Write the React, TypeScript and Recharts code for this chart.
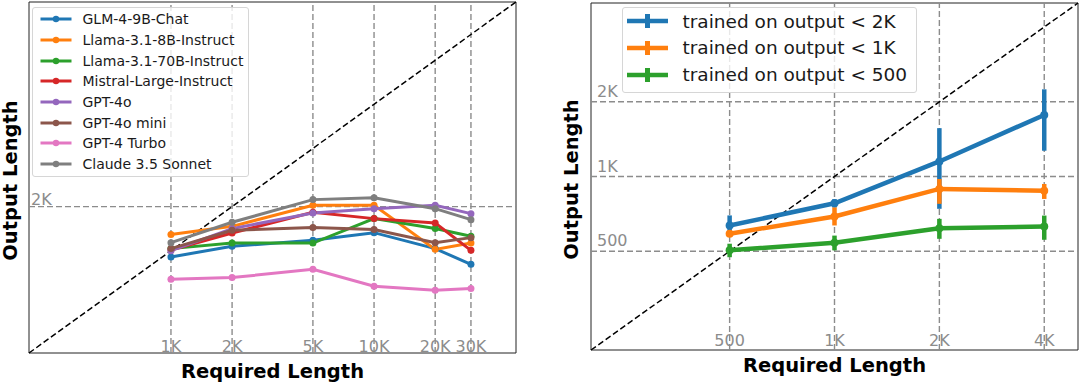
import {
  LineChart, Line, XAxis, YAxis, ReferenceLine, ReferenceArea, ErrorBar, Legend
} from 'recharts'

const FONT = '"DejaVu Sans", sans-serif'
const GRID = '#8c8c8c'

// left panel: required vs output length per model
const reqLen = [1000, 2000, 5000, 10000, 20000, 30000]
const modelNames = [
  'GLM-4-9B-Chat', 'Llama-3.1-8B-Instruct', 'Llama-3.1-70B-Instruct', 'Mistral-Large-Instruct',
  'GPT-4o', 'GPT-4o mini', 'GPT-4 Turbo', 'Claude 3.5 Sonnet',
]
const modelColors = ['#1f77b4', '#ff7f0e', '#2ca02c', '#d62728', '#9467bd', '#8c564b', '#e377c2', '#7f7f7f']
const glm = [906, 1071, 1177, 1328, 1033, 807]
const llama8b = [1288, 1467, 2042, 2042, 1021, 1128]
const llama70b = [1033, 1128, 1128, 1656, 1416, 1254]
const mistral = [1010, 1321, 1829, 1656, 1545, 1005]
const gpt4o = [1000, 1416, 1808, 1937, 2042, 1791]
const gpt4oMini = [1033, 1377, 1438, 1393, 1135, 1228]
const gpt4Turbo = [637, 655, 746, 571, 536, 551]
const claude = [1135, 1563, 2233, 2303, 1937, 1630]
const modelSeries = [glm, llama8b, llama70b, mistral, gpt4o, gpt4oMini, gpt4Turbo, claude]

const leftGridX = [1000, 2000, 5000, 10000, 20000, 30000]
const leftGridXLabels = ['1K', '2K', '5K', '10K', '20K', '30K']
const leftTicks = [200, 300, 400, 500, 600, 700, 800, 900, 1000, 2000, 3000, 4000, 5000, 6000, 7000, 8000, 9000,
  10000, 20000, 30000, 40000, 50000]

// right panel: trained models with error bars
const trainX = [500, 1000, 2000, 4000]
const trainNames = ['trained on output < 2K', 'trained on output < 1K', 'trained on output < 500']
const trainColors = ['#1f77b4', '#ff7f0e', '#2ca02c']
const out2k = [635, 780, 1150, 1770]
const out2kLow = [60, 30, 409, 500]
const out2kHigh = [62, 31, 416, 475]
const out1k = [588, 690, 891, 877]
const out1kLow = [12, 55, 115, 65]
const out1kHigh = [12, 61, 86, 56]
const out500 = [504, 541, 619, 629]
const out500Low = [31, 37, 58, 73]
const out500High = [32, 37, 56, 67]
const trainSeries = [out2k, out1k, out500]
const trainLow = [out2kLow, out1kLow, out500Low]
const trainHigh = [out2kHigh, out1kHigh, out500High]

const rightGridX = [500, 1000, 2000, 4000]
const rightGridXLabels = ['500', '1K', '2K', '4K']
const rightGridY = [500, 1000, 2000]
const rightGridYLabels = ['500', '1K', '2K']
const rightTicks = [200, 300, 400, 500, 600, 700, 800, 900, 1000, 2000, 3000, 4000, 5000]

const leftRows = reqLen.map((x, i) => {
  const r: any = { x }
  modelSeries.forEach((s, j) => { r['m' + j] = s[i] })
  return r
})

const rightRows = trainX.map((x, i) => {
  const r: any = { x }
  trainSeries.forEach((s, j) => {
    r['t' + j] = s[i]
    r['e' + j] = [trainLow[j][i], trainHigh[j][i]]
  })
  return r
})

const gridLabel = (value: string, position: any, offset: number, dx = 0) => ({
  value, position, offset, dx, fill: GRID, fontSize: 16, fontFamily: FONT,
})

const titleStyle = { fill: '#000', fontSize: 19.5, fontWeight: 'bold', fontFamily: FONT }

const LeftLegend = () => (
  <div style={{
    boxSizing: 'border-box', width: 217, height: 170, background: 'rgba(255,255,255,0.8)',
    border: '1px solid #d6d6d6', borderRadius: 3, paddingTop: 1, fontFamily: FONT, fontSize: 14, color: '#1a1a1a',
  }}>
    {modelNames.map((n, i) => (
      <div key={n} style={{ display: 'flex', alignItems: 'center', height: 20.67 }}>
        <svg width={50} height={10} style={{ flex: 'none' }}>
          <line x1={7.5} x2={38.5} y1={5} y2={5} stroke={modelColors[i]} strokeWidth={3} />
          <circle cx={23} cy={5} r={3.2} fill={modelColors[i]} />
        </svg>
        <span style={{ whiteSpace: 'nowrap' }}>{n}</span>
      </div>
    ))}
  </div>
)

const RightLegend = () => (
  <div style={{
    boxSizing: 'border-box', width: 295, height: 86, background: 'rgba(255,255,255,0.8)',
    border: '1px solid #d6d6d6', borderRadius: 3, paddingTop: 0.5, fontFamily: FONT, fontSize: 18.5, color: '#1a1a1a',
  }}>
    {trainNames.map((n, i) => (
      <div key={n} style={{ display: 'flex', alignItems: 'center', height: 26.67 }}>
        <svg width={60} height={20} style={{ flex: 'none' }}>
          <line x1={4} x2={45} y1={10} y2={10} stroke={trainColors[i]} strokeWidth={4.5} />
          <line x1={24.5} x2={24.5} y1={3} y2={17} stroke={trainColors[i]} strokeWidth={5} />
        </svg>
        <span style={{ whiteSpace: 'nowrap' }}>{n}</span>
      </div>
    ))}
  </div>
)

function LeftChart() {
  return (
    <LineChart width={540} height={384} data={leftRows} margin={{ top: 2, right: 24, bottom: 30, left: 28 }}>
      <XAxis
        dataKey="x" type="number" scale="log" domain={[200, 50000]} allowDataOverflow
        ticks={leftTicks} tick={false} tickSize={3} axisLine={false} height={1}
        tickLine={{ stroke: '#222' }}
        label={{ value: 'Required Length', position: 'bottom', offset: 10, ...titleStyle }}
      />
      <YAxis
        type="number" scale="log" domain={[200, 50000]} allowDataOverflow
        ticks={leftTicks} tick={false} tickSize={3} axisLine={false} width={1}
        tickLine={{ stroke: '#222' }}
        label={{ value: 'Output Length', angle: -90, position: 'center', dx: -18.5, dy: 3, ...titleStyle }}
      />
      {leftGridX.map((v, i) => (
        <ReferenceLine key={v} x={v} stroke={GRID} strokeWidth={1.4} strokeDasharray="6 3"
          label={gridLabel(leftGridXLabels[i], 'insideBottom', 1)} />
      ))}
      <ReferenceLine y={2000} stroke={GRID} strokeWidth={1.4} strokeDasharray="6 3"
        label={gridLabel('2K', 'insideBottomLeft', 2)} />
      <ReferenceLine segment={[{ x: 200, y: 200 }, { x: 50000, y: 50000 }]}
        stroke="#000" strokeWidth={1.5} strokeDasharray="6 3" />
      <ReferenceArea x1={200} x2={50000} y1={200} y2={50000} fill="none" stroke="#222" strokeWidth={1} />
      {modelNames.map((n, j) => (
        <Line key={n} dataKey={'m' + j} name={n} stroke={modelColors[j]} strokeWidth={3}
          dot={{ r: 3.5, fill: modelColors[j], stroke: modelColors[j], strokeWidth: 0 }}
          activeDot={false} isAnimationActive={false} />
      ))}
      <Legend layout="vertical" align="center" verticalAlign="middle" content={<LeftLegend />}
        wrapperStyle={{ left: 31.5, top: 7, width: 217, height: 170 }} />
    </LineChart>
  )
}

function RightChart() {
  return (
    <LineChart width={540} height={384} data={rightRows} margin={{ top: 3, right: 2, bottom: 33, left: 50 }}>
      <XAxis
        dataKey="x" type="number" scale="log" domain={[200, 5000]} allowDataOverflow
        ticks={rightTicks} tick={false} tickSize={3} axisLine={false} height={1}
        tickLine={{ stroke: '#222' }}
        label={{ value: 'Required Length', position: 'bottom', offset: 7, ...titleStyle }}
      />
      <YAxis
        type="number" scale="log" domain={[200, 5000]} allowDataOverflow
        ticks={rightTicks} tick={false} tickSize={3} axisLine={false} width={1}
        tickLine={{ stroke: '#222' }}
        label={{ value: 'Output Length', angle: -90, position: 'center', dx: -19, dy: 3, ...titleStyle }}
      />
      {rightGridX.map((v, i) => (
        <ReferenceLine key={v} x={v} stroke={GRID} strokeWidth={1.4} strokeDasharray="6 3"
          label={gridLabel(rightGridXLabels[i], 'insideBottom', 4)} />
      ))}
      {rightGridY.map((v, i) => (
        <ReferenceLine key={v} y={v} stroke={GRID} strokeWidth={1.4} strokeDasharray="6 3"
          label={gridLabel(rightGridYLabels[i], 'insideBottomLeft', 5, 1)} />
      ))}
      <ReferenceLine segment={[{ x: 200, y: 200 }, { x: 5000, y: 5000 }]}
        stroke="#000" strokeWidth={1.5} strokeDasharray="6 3" />
      <ReferenceArea x1={200} x2={5000} y1={200} y2={5000} fill="none" stroke="#222" strokeWidth={1} />
      {trainNames.map((n, j) => (
        <Line key={n} dataKey={'t' + j} name={n} stroke={trainColors[j]} strokeWidth={4.5}
          dot={{ r: 4, fill: trainColors[j], stroke: trainColors[j], strokeWidth: 0 }}
          activeDot={false} isAnimationActive={false}>
          <ErrorBar dataKey={'e' + j} direction="y" width={0} stroke={trainColors[j]} strokeWidth={4.5} />
        </Line>
      ))}
      <Legend layout="vertical" align="center" verticalAlign="middle" content={<RightLegend />}
        wrapperStyle={{ left: 81.5, top: 6.5, width: 295, height: 86 }} />
    </LineChart>
  )
}

export default function App() {
  return (
    <div style={{ position: 'absolute', left: 0, top: 0, width: 1080, height: 384, background: '#fff', fontFamily: FONT }}>
      <div style={{ position: 'absolute', left: 0, top: 0 }}>
        <LeftChart />
      </div>
      <div style={{ position: 'absolute', left: 540, top: 0 }}>
        <RightChart />
      </div>
    </div>
  )
}
